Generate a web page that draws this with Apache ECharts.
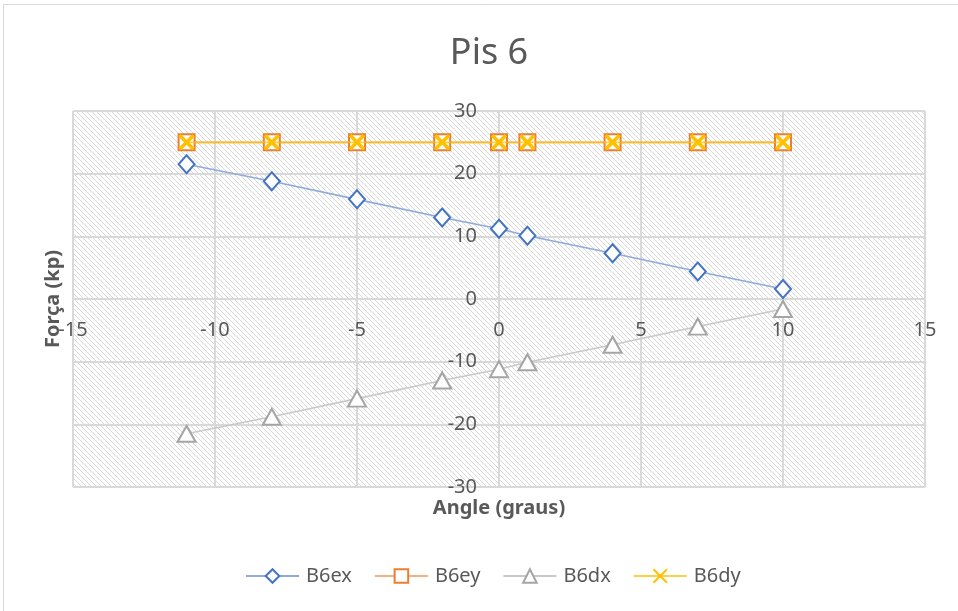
<!DOCTYPE html>
<html>
<head>
<meta charset="utf-8">
<script src="https://cdn.jsdelivr.net/npm/echarts@6/dist/echarts.min.js"></script>
<style>
  html, body { margin: 0; padding: 0; background: #fff; }
  #chart { width: 958px; height: 611px; }
</style>
</head>
<body>
<div id="chart"></div>
<script>
// Angles (graus) and measured forces (kp)
const angles = [-11, -8, -5, -2, 0, 1, 4, 7, 10];
const b6ex = [21.5, 18.8, 15.9, 13.0, 11.2, 10.1, 7.3, 4.4, 1.6];
const b6ey = [25, 25, 25, 25, 25, 25, 25, 25, 25];
const b6dx = [-21.5, -18.8, -15.9, -13.0, -11.2, -10.1, -7.3, -4.4, -1.6];
const b6dy = [25, 25, 25, 25, 25, 25, 25, 25, 25];
const seriesNames = ['B6ex', 'B6ey', 'B6dx', 'B6dy'];

const pairs = ys => angles.map((a, i) => [a, ys[i]]);

// Diagonal hatch fill for the plot area
function hatchTile() {
  const n = 5;
  const c = document.createElement('canvas');
  c.width = n; c.height = n;
  const g = c.getContext('2d');
  g.fillStyle = '#ffffff';
  g.fillRect(0, 0, n, n);
  g.strokeStyle = '#d8d8d8';
  g.lineWidth = 1;
  g.beginPath();
  g.moveTo(-1, -1); g.lineTo(n + 1, n + 1);
  g.moveTo(-1, n - 1); g.lineTo(1, n + 1);
  g.moveTo(n - 1, -1); g.lineTo(n + 1, 1);
  g.stroke();
  return c;
}

const textColor = '#595959';
const gridColor = '#d9d9d9';
const font = '"Noto Sans", "Liberation Sans", sans-serif';

// Plot box
const gridLeft = 73, gridRight = 33, gridTop = 111, gridBottom = 124;
const W = 958, H = 611;
const plotW = W - gridLeft - gridRight;
const plotH = H - gridTop - gridBottom;

const xMin = -15, xMax = 15, yMin = -30, yMax = 30;
// Axes cross at the origin: shift each axis from its edge to the zero of the other
const xAxisShift = -plotH * (0 - yMin) / (yMax - yMin);
const yAxisShift = -plotW * (0 - xMin) / (xMax - xMin);

const chart = echarts.init(document.getElementById('chart'), null, { renderer: 'canvas' });

chart.setOption({
  backgroundColor: '#ffffff',
  animation: false,
  textStyle: { fontFamily: font },
  title: {
    text: 'Pis 6',
    left: 484, top: 31,
    textAlign: 'center',
    textStyle: { fontFamily: font, fontSize: 36, fontWeight: 'normal', color: textColor }
  },
  grid: {
    left: gridLeft, right: gridRight, top: gridTop, bottom: gridBottom,
    show: true,
    borderWidth: 0,
    backgroundColor: { image: hatchTile(), repeat: 'repeat' }
  },
  xAxis: {
    type: 'value',
    min: xMin, max: xMax, interval: 5,
    position: 'bottom',
    offset: xAxisShift,
    axisLine: { show: true, onZero: false, lineStyle: { color: gridColor, width: 2 } },
    axisTick: { show: false },
    axisLabel: { color: textColor, fontSize: 20, margin: 21, fontFamily: font },
    splitLine: { show: true, lineStyle: { color: gridColor, width: 2 } }
  },
  yAxis: {
    type: 'value',
    min: yMin, max: yMax, interval: 10,
    position: 'left',
    offset: yAxisShift,
    axisLine: { show: true, onZero: false, lineStyle: { color: gridColor, width: 2 } },
    axisTick: { show: false },
    axisLabel: { color: textColor, fontSize: 20, margin: 22, fontFamily: font },
    splitLine: { show: true, lineStyle: { color: gridColor, width: 2 } }
  },
  legend: {
    data: seriesNames,
    bottom: 20,
    left: 240,
    itemWidth: 53,
    itemHeight: 17,
    itemGap: 22,
    textStyle: { color: textColor, fontSize: 20, fontFamily: font, padding: [0, 0, 0, 2] }
  },
  graphic: [
    {
      type: 'rect',
      shape: { x: 3.5, y: 4.5, width: 1200, height: 1200 },
      style: { fill: 'none', stroke: '#d9d9d9', lineWidth: 1 },
      silent: true, z: -10
    },
    {
      type: 'text',
      x: 499, y: 508,
      style: {
        text: 'Angle (graus)', fill: textColor, font: 'bold 20px ' + font,
        align: 'center', verticalAlign: 'middle'
      }
    },
    {
      type: 'text',
      x: 53, y: 299,
      rotation: Math.PI / 2,
      style: {
        text: 'Força (kp)', fill: textColor, font: 'bold 20px ' + font,
        align: 'center', verticalAlign: 'middle'
      },
      z: 100
    }
  ],
  series: [
    {
      name: 'B6ex', type: 'line', data: pairs(b6ex),
      symbol: 'emptyDiamond', symbolSize: [16, 18],
      itemStyle: { color: '#4472C4', borderColor: '#4472C4', borderWidth: 3.5 },
      lineStyle: { color: '#8faadc', width: 1.6 },
      z: 3
    },
    {
      name: 'B6ey', type: 'line', data: pairs(b6ey),
      symbol: 'emptyRect', symbolSize: 16,
      itemStyle: { color: '#ED7D31', borderColor: '#ED7D31', borderWidth: 3.5 },
      lineStyle: { color: '#F4B183', width: 1.6 },
      z: 4
    },
    {
      name: 'B6dx', type: 'line', data: pairs(b6dx),
      symbol: 'emptyTriangle', symbolSize: [18, 16],
      itemStyle: { color: '#A5A5A5', borderColor: '#A5A5A5', borderWidth: 3.5 },
      lineStyle: { color: '#c9c9c9', width: 1.6 },
      z: 3
    },
    {
      name: 'B6dy', type: 'line', data: pairs(b6dy),
      symbol: 'path://M0,0L10,10M0,10L10,0', symbolSize: 14,
      itemStyle: { color: '#FFC000', borderColor: '#FFC000', borderWidth: 3.5 },
      lineStyle: { color: '#FFC000', width: 1.6, opacity: 0.75 },
      z: 5
    }
  ]
});
</script>
</body>
</html>
